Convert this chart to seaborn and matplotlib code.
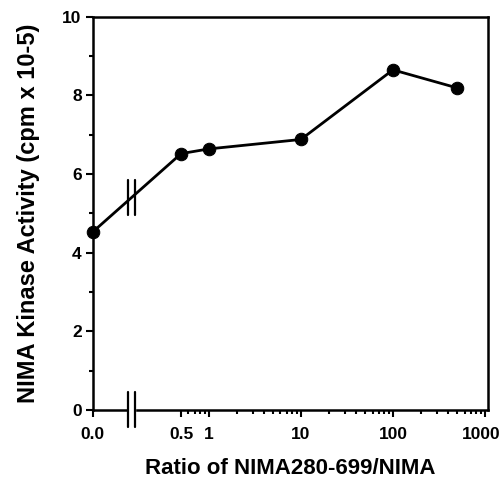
import numpy as np
import matplotlib
matplotlib.use("Agg")
import matplotlib.pyplot as plt
import matplotlib.transforms as mtransforms
import seaborn as sns

# data
ratio = [0, 0.5, 1, 10, 100, 500]
activity = [4.53, 6.52, 6.64, 6.88, 8.65, 8.19]

x_ticks = [0, 0.5, 1, 10, 100, 1000]
x_tick_labels = ["0.0", "0.5", "1", "10", "100", "1000"]
x_minor = [0.6, 0.7, 0.8, 0.9] + [m * d for d in (1, 10, 100) for m in range(2, 10)]
y_ticks = [0, 2, 4, 6, 8, 10]
y_minor = [1, 3, 5, 7, 9]

# broken axis: linear stretch from 0 to LO, log above it
LO = 0.4
A = -1.26
B = np.log10(LO)


def fwd(x):
    x = np.asarray(x, dtype=float)
    return np.where(x >= LO, np.log10(np.maximum(x, LO)), A + (B - A) * x / LO)


def inv(y):
    y = np.asarray(y, dtype=float)
    return np.where(y >= B, 10 ** np.minimum(y, 10), (y - A) / (B - A) * LO)


sns.set_style("ticks")
plt.rcParams["font.family"] = ["Liberation Sans", "DejaVu Sans"]
plt.rcParams["font.weight"] = "bold"
for k in ("text.color", "axes.labelcolor", "xtick.color", "ytick.color", "axes.edgecolor"):
    plt.rcParams[k] = "black"

fig = plt.figure(figsize=(4.99, 4.79), dpi=100)
ax = fig.add_axes([0.186, 0.144, 0.792, 0.821])

sns.lineplot(x=ratio, y=activity, ax=ax, color="black", linewidth=2.0,
             marker="o", markersize=9, markeredgecolor="black", clip_on=False, zorder=4)

ax.set_xscale("function", functions=(fwd, inv))
ax.set_xlim(0, 1078)
ax.set_ylim(0, 10)
ax.set_xticks(x_ticks)
ax.set_xticklabels(x_tick_labels)
ax.set_xticks(x_minor, minor=True)
ax.set_yticks(y_ticks)
ax.set_yticks(y_minor, minor=True)

for s in ax.spines.values():
    s.set_linewidth(1.8)
ax.tick_params(which="major", direction="out", length=5, width=1.5, labelsize=12.5, pad=3)
ax.tick_params(axis="x", which="major", pad=7)
ax.tick_params(which="minor", direction="out", length=3, width=1.5)
for lbl in ax.get_xticklabels() + ax.get_yticklabels():
    lbl.set_fontweight("bold")
# nudge the last label a little left so it stays inside the figure
last = ax.get_xticklabels()[-1]
last.set_transform(last.get_transform() + mtransforms.ScaledTranslation(-4 / 100, 0, fig.dpi_scale_trans))

ax.set_xlabel("Ratio of NIMA280-699/NIMA", fontsize=16, fontweight="bold", labelpad=12)
ax.set_ylabel("NIMA Kinase Activity (cpm x 10-5)", fontsize=17, fontweight="bold", labelpad=16)

# break marks on the axis and on the line
bx = [0.089, 0.108]
ax.fill_between([bx[0], bx[1]], -0.01, 0.01, color="white", transform=ax.transAxes,
                clip_on=False, zorder=5)
for xb in bx:
    ax.plot([xb, xb], [-0.043, 0.046], color="black", lw=1.6,
            transform=ax.transAxes, clip_on=False, zorder=6)
    ax.plot([xb, xb], [0.496, 0.585], color="black", lw=1.6,
            transform=ax.transAxes, clip_on=False, zorder=6)

fig.savefig("out.png", dpi=100)
